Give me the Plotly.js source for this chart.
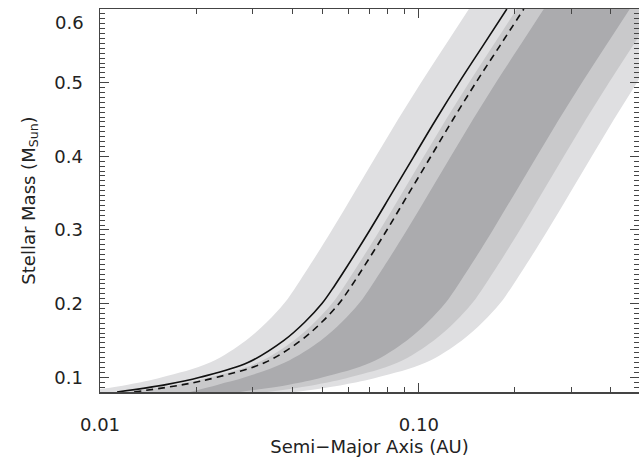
<!DOCTYPE html>
<html>
<head>
<meta charset="utf-8">
<script src="https://cdn.plot.ly/plotly-3.0.1.min.js"></script>
<style>html,body{margin:0;padding:0;background:#fff;}#chart{width:639px;height:459px;}</style>
</head>
<body>
<div id="chart"></div>
<script>
// Stellar mass grid (M_Sun)
const masses = [0.08,0.09,0.10,0.12,0.15,0.175,0.20,0.225,0.25,0.30,0.35,0.40,0.45,0.50,0.55,0.60];
// Band edges: semi-major axis (AU) at each mass
const lightInner = [0.008599,0.01224,0.01565,0.02213,0.02869,0.03339,0.03776,0.04146,0.04521,0.05338,0.06257,0.07334,0.08599,0.1015,0.1207,0.1435];
const lightOuter = [0.04087,0.05819,0.07438,0.1052,0.1364,0.1587,0.1795,0.1971,0.2149,0.2537,0.2974,0.3486,0.4087,0.4825,0.5735,0.6820];
const midInner   = [0.01216,0.01731,0.02212,0.03128,0.04057,0.04721,0.05338,0.05862,0.06391,0.07547,0.08846,0.1037,0.1216,0.1435,0.1706,0.2028];
const midOuter   = [0.03339,0.04754,0.06077,0.08592,0.1114,0.1297,0.1466,0.1610,0.1756,0.2073,0.2430,0.2848,0.3339,0.3942,0.4686,0.5572];
const darkInner  = [0.01915,0.02344,0.02847,0.03800,0.04929,0.05735,0.06485,0.07121,0.07765,0.09169,0.1075,0.1260,0.1477,0.1743,0.2073,0.2464];
const darkOuter  = [0.02748,0.03912,0.05001,0.07071,0.09170,0.1067,0.1207,0.1325,0.1445,0.1706,0.2000,0.2344,0.2748,0.3244,0.3856,0.4585];
// Curves
const solidLine  = [0.01131,0.01610,0.02058,0.02910,0.03774,0.04392,0.04966,0.05453,0.05946,0.07021,0.08230,0.09646,0.1131,0.1335,0.1587,0.1887];
const dashedLine = [0.01279,0.01820,0.02327,0.03290,0.04267,0.04965,0.05614,0.06165,0.06722,0.07937,0.09304,0.1091,0.1279,0.1509,0.1794,0.2133];
// Ticks
const xTickVals = [0.01, 0.1];
const xTickText = ['0.01', '0.10'];
const xMinorVals = [0.02,0.03,0.04,0.05,0.06,0.07,0.08,0.09,0.2,0.3,0.4];
const yTickVals = [0.1,0.2,0.3,0.4,0.5];
const yTickText = ['0.1','0.2','0.3','0.4','0.5'];
const yTopLabel = '0.6';

const bandColors = {light:'#dfdfe1', mid:'#c9c9cb', dark:'#ababae'};

function edge(xs, fill, color) {
  const t = {
    type:'scatter', mode:'lines', x: xs, y: masses,
    line:{width:0, color: color || 'rgba(0,0,0,0)', shape:'spline', smoothing:1},
    hoverinfo:'skip', showlegend:false
  };
  if (fill) { t.fill = 'tonextx'; t.fillcolor = color; }
  return t;
}

const traces = [
  edge(lightInner, false), edge(lightOuter, true, bandColors.light),
  edge(midInner, false),   edge(midOuter, true, bandColors.mid),
  edge(darkInner, false),  edge(darkOuter, true, bandColors.dark),
  {type:'scatter', mode:'lines', x: solidLine, y: masses,
   line:{color:'#111', width:1.6, shape:'spline', smoothing:1}, showlegend:false},
  {type:'scatter', mode:'lines', x: dashedLine, y: masses,
   line:{color:'#111', width:1.6, dash:'7px,5px', shape:'spline', smoothing:1}, showlegend:false}
];

const axisFont = {family:'DejaVu Sans, sans-serif', size:18, color:'#222'};

const layout = {
  width: 639, height: 459,
  margin: {l:100, r:0, t:9, b:67},
  paper_bgcolor:'#fff', plot_bgcolor:'#fff',
  font: axisFont,
  showlegend: false,
  xaxis: {
    type:'log', range:[-2, Math.log10(0.49)],
    tickmode:'array', tickvals:xTickVals, ticktext:xTickText,
    ticks:'inside', ticklen:9, tickwidth:1, tickcolor:'#444',
    minor:{tickmode:'array', tickvals:xMinorVals, ticks:'inside', ticklen:5, tickcolor:'#444'},
    showline:true, linecolor:'#444', linewidth:1.5, mirror:'ticks',
    showgrid:false, zeroline:false,
    tickfont: axisFont, ticklabelstandoff: 16,
    title:{text:'Semi\u2212Major Axis (AU)', font:axisFont, standoff:6}
  },
  yaxis: {
    range:[0.08, 0.6],
    tickmode:'array', tickvals:yTickVals, ticktext:yTickText,
    ticks:'inside', ticklen:9, tickwidth:1, tickcolor:'#444',
    minor:{dtick:0.1/15, tick0:0, ticks:'inside', ticklen:5, tickcolor:'#444'},
    showline:true, linecolor:'#444', linewidth:1.5, mirror:'ticks',
    showgrid:false, zeroline:false,
    tickfont: axisFont, ticklabelstandoff: 12,
    title:{text:'Stellar Mass (M<sub>Sun</sub>)', font:axisFont, standoff:14}
  },
  annotations: [
    {xref:'paper', yref:'y', x:0, y:0.6, xanchor:'right', yanchor:'middle',
     xshift:-14, yshift:-13, text:yTopLabel, showarrow:false, font:axisFont}
  ]
};

Plotly.newPlot('chart', traces, layout, {staticPlot:true, displayModeBar:false});
</script>
</body>
</html>
